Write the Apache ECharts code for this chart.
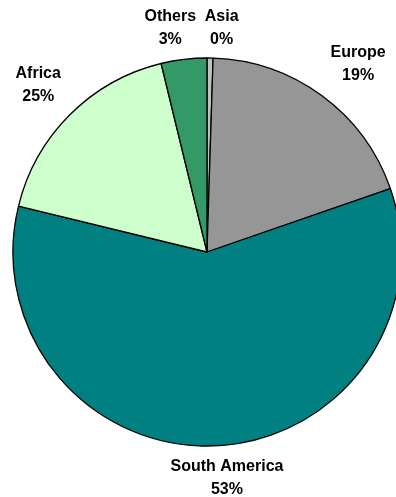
<!DOCTYPE html>
<html>
<head>
<meta charset="utf-8">
<script src="https://cdn.jsdelivr.net/npm/echarts@6/dist/echarts.min.js"></script>
<style>
html, body { margin: 0; padding: 0; background: #ffffff; }
#chart { width: 396px; height: 497px; }
</style>
</head>
<body>
<div id="chart"></div>
<script>
// Data (slice sizes follow the drawn geometry)
const categories = ['Asia', 'Europe', 'South America', 'Africa', 'Others'];
const sliceValues = [0.5, 19.2, 59.1, 17.4, 3.8];
// Percentage texts as printed on the chart
const percentLabels = ['0%', '19%', '53%', '25%', '3%'];

// Styling
const sliceColors = ['#C0C0C0', '#969696', '#008080', '#CCFFCC', '#339966'];
const labelOffsets = [[11, 9], [13, 0], [9, -7], [-4, -2], [-9, 7]];

const chart = echarts.init(document.getElementById('chart'), null, { renderer: 'canvas' });

const pieData = categories.map((name, i) => ({
  name: name,
  value: sliceValues[i],
  itemStyle: { color: sliceColors[i] }
}));

const labelData = categories.map((name, i) => ({
  name: name,
  value: sliceValues[i],
  label: { offset: labelOffsets[i] }
}));

chart.setOption({
  animation: false,
  backgroundColor: '#ffffff',
  series: [
    {
      type: 'pie',
      center: [207, 252],
      radius: [0, 194],
      startAngle: 90,
      clockwise: true,
      silent: true,
      data: pieData,
      itemStyle: { borderColor: '#000000', borderWidth: 1.3 },
      label: { show: false },
      labelLine: { show: false },
      emphasis: { disabled: true }
    },
    {
      type: 'pie',
      center: [207, 252],
      radius: [210, 250],
      startAngle: 90,
      clockwise: true,
      silent: true,
      data: labelData,
      itemStyle: { color: 'rgba(0,0,0,0)', borderWidth: 0 },
      label: {
        show: true,
        position: 'inside',
        formatter: (p) => p.name + '\n' + percentLabels[p.dataIndex],
        fontFamily: 'Liberation Sans, Arial, sans-serif',
        fontWeight: 'bold',
        fontSize: 16,
        lineHeight: 23,
        color: '#000000',
        align: 'center'
      },
      labelLine: { show: false },
      emphasis: { disabled: true }
    }
  ]
});
</script>
</body>
</html>
